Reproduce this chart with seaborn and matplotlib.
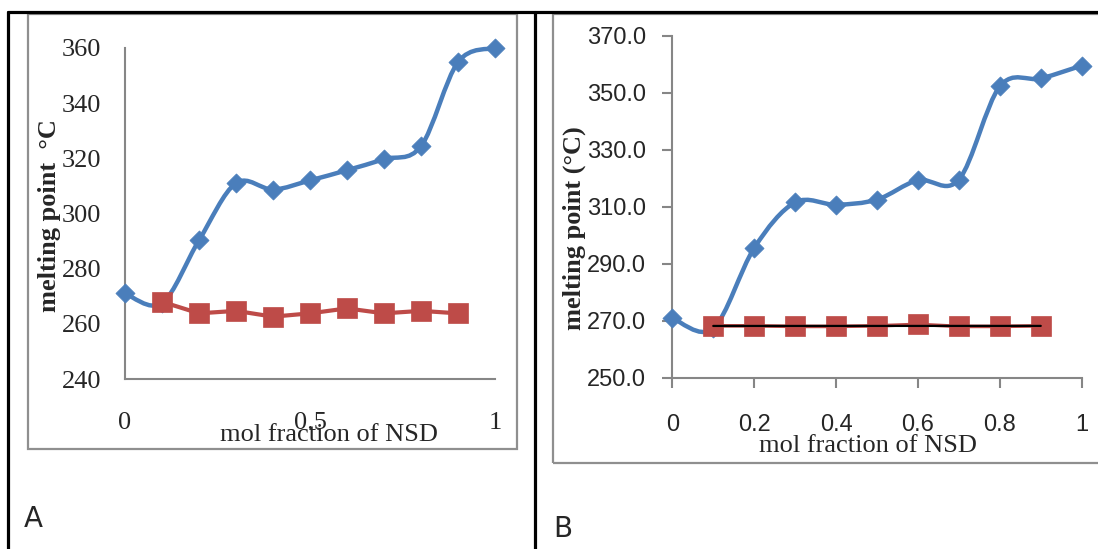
import numpy as np
import seaborn as sns
import matplotlib.pyplot as plt
from matplotlib.path import Path
from matplotlib.patches import PathPatch, Rectangle
from matplotlib.lines import Line2D

# mol fraction of NSD
x_all = [0.0, 0.1, 0.2, 0.3, 0.4, 0.5, 0.6, 0.7, 0.8, 0.9, 1.0]
x_mix = [0.1, 0.2, 0.3, 0.4, 0.5, 0.6, 0.7, 0.8, 0.9]

# panel A
a_blue = [271, 267.5, 290.3, 311, 308.7, 312, 315.7, 319.7, 324.4, 354.9, 360]
a_red = [268, 263.8, 264.7, 262.6, 263.8, 265.6, 263.8, 264.7, 263.8]
a_yticks = [240, 260, 280, 300, 320, 340, 360]
a_xticks = [0, 0.5, 1]

# panel B
b_blue = [270.9, 267.3, 295.5, 311.5, 310.7, 312.5, 319.3, 319.5, 352.2, 355, 359.5]
b_red = [268.2, 268.2, 268.0, 268.0, 268.2, 268.7, 268.0, 268.0, 268.2]
b_yticks = [250, 270, 290, 310, 330, 350, 370]
b_xticks = [0, 0.2, 0.4, 0.6, 0.8, 1]

BLUE = "#4A7EBB"
RED = "#BE4B48"
GREY = "#868686"
W, H = 1098, 549

sns.set_style("white")
plt.rcParams["font.family"] = ["Liberation Serif", "DejaVu Serif"]


def fx(px):
    return px / W


def fy(py):
    return 1 - py / H


def smooth_path(xs, ys):
    # Excel-style smoothed line: cubic bezier through every point
    pts = np.column_stack([xs, ys]).astype(float)
    verts = [pts[0]]
    codes = [Path.MOVETO]
    n = len(pts)
    for i in range(n - 1):
        p0 = pts[max(i - 1, 0)]
        p1 = pts[i]
        p2 = pts[i + 1]
        p3 = pts[min(i + 2, n - 1)]
        verts += [p1 + (p2 - p0) / 6, p2 - (p3 - p1) / 6, p2]
        codes += [Path.CURVE4] * 3
    return Path(verts, codes)


def draw_series(ax, blue, red, red_lw):
    ax.add_patch(PathPatch(smooth_path(x_all, blue), facecolor="none",
                           edgecolor=BLUE, lw=3.2, zorder=2, clip_on=False,
                           capstyle="round", joinstyle="round"))
    sns.scatterplot(x=x_all, y=blue, marker="D", s=95, color=BLUE,
                    edgecolor=BLUE, linewidth=0.5, ax=ax, zorder=3,
                    clip_on=False)
    sns.lineplot(x=x_mix, y=red, marker="s", markersize=14, color=RED,
                 markeredgecolor=RED, markeredgewidth=0.5, linewidth=red_lw,
                 ax=ax, zorder=4, clip_on=False)


fig = plt.figure(figsize=(W / 100, H / 100), dpi=100)

# outer black grid lines and grey chart frames
for line in [([fx(8), fx(W)], [fy(12), fy(12)]),
             ([fx(8), fx(8)], [fy(12), 0]),
             ([fx(535), fx(535)], [fy(12), 0])]:
    fig.add_artist(Line2D(line[0], line[1], color="black", lw=2.3))
fig.add_artist(Rectangle((fx(28), fy(449)), fx(489), 435 / H, fill=False,
                         edgecolor="#8f8f8f", lw=1.6))
fig.add_artist(Rectangle((fx(553), fy(463)), fx(560), 449 / H, fill=False,
                         edgecolor="#8f8f8f", lw=1.6))

# ---- panel A
ax = fig.add_axes([fx(125), fy(379), fx(370), 331 / H])
draw_series(ax, a_blue, a_red, 3.0)
ax.set_xlim(0, 1)
ax.set_ylim(240, 360)
ax.set_yticks(a_yticks)
ax.set_xticks(a_xticks)
ax.set_xticklabels(["0", "0.5", "1"])
ax.tick_params(length=0, labelsize=19)
ax.tick_params(axis="y", pad=17)
ax.tick_params(axis="x", pad=24)
for side in ["top", "right"]:
    ax.spines[side].set_visible(False)
for side in ["left", "bottom"]:
    ax.spines[side].set_color(GREY)
    ax.spines[side].set_linewidth(1.5)
ax.set_xlabel("mol fraction of NSD", fontsize=19, va="center")
ax.xaxis.set_label_coords(0.551, -0.169)
ax.set_ylabel("melting point  \u00b0C", fontsize=19, fontweight="bold",
              va="center")
ax.yaxis.set_label_coords(-0.203, 0.495)

# ---- panel B
ax = fig.add_axes([fx(672.3), fy(377.7), fx(409.4), 342 / H])
draw_series(ax, b_blue, b_red, 2.6)
sns.regplot(x=x_mix, y=b_red, scatter=False, ci=None, truncate=True,
            color="black", line_kws=dict(lw=1.6, zorder=5), ax=ax)
ax.set_xlim(0, 1)
ax.set_ylim(250, 370)
ax.set_yticks(b_yticks)
ax.set_yticklabels([f"{v:.1f}" for v in b_yticks])
ax.set_xticks(b_xticks)
ax.set_xticklabels(["0", "0.2", "0.4", "0.6", "0.8", "1"])
ax.tick_params(direction="out", length=7, width=1.5, color=GREY,
               labelsize=17, left=True, bottom=True)
ax.tick_params(axis="y", pad=12)
ax.tick_params(axis="x", pad=19)
for lab in ax.get_xticklabels() + ax.get_yticklabels():
    lab.set_family(["Liberation Sans", "DejaVu Sans"])
for side in ["top", "right"]:
    ax.spines[side].set_visible(False)
for side in ["left", "bottom"]:
    ax.spines[side].set_color(GREY)
    ax.spines[side].set_linewidth(1.5)
ax.set_xlabel("mol fraction of NSD", fontsize=19, va="center")
ax.xaxis.set_label_coords(0.478, -0.201)
ax.set_ylabel("melting point (\u00b0C)", fontsize=19, fontweight="bold",
              va="center")
ax.yaxis.set_label_coords(-0.239, 0.438)

# panel letters
fig.text(fx(24), fy(527), "A", fontsize=20, family="DejaVu Sans",
         ha="left", va="baseline")
fig.text(fx(553), fy(537), "B", fontsize=20, family="DejaVu Sans",
         ha="left", va="baseline")

fig.savefig("out.png", dpi=100)
